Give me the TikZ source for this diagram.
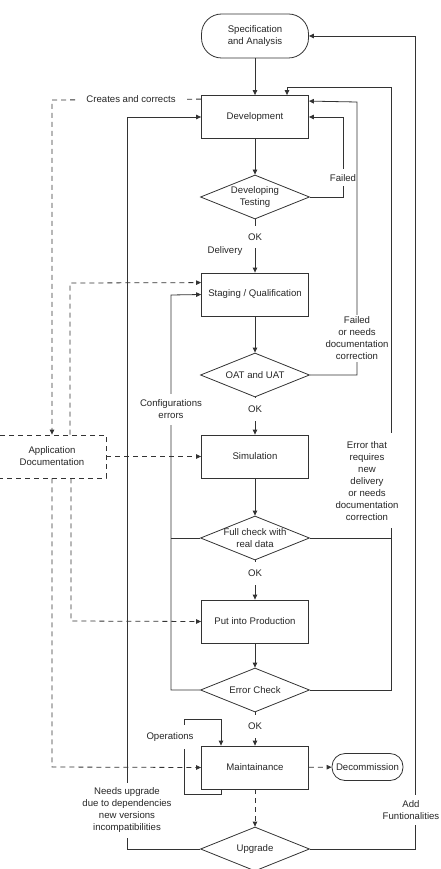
\documentclass[tikz,border=0pt]{standalone}
\usepackage{fontspec}
\setmainfont{Liberation Sans}
\usetikzlibrary{arrows.meta, shapes.geometric}

\begin{document}
\begin{tikzpicture}[x=1pt, y=-1pt,
  >={Triangle[length=5pt, width=4.5pt]},
  every node/.style={font=\fontsize{9.6}{12}\selectfont, text=black!85},
  box/.style={rectangle, draw=black!80, line width=0.8pt, minimum width=107pt, minimum height=43pt, inner sep=0pt, align=center},
  term/.style={box, rounded corners=20pt, minimum height=44pt},
  dec/.style={diamond, draw=black!80, line width=0.8pt, minimum width=109pt, minimum height=44pt, inner sep=0pt},
  lbl/.style={fill=white, inner xsep=2pt, inner ysep=5pt, align=center},
  ok/.style={fill=white, inner xsep=2pt, inner ysep=8pt},
  ln/.style={draw=black!80, line width=0.8pt},
  arr/.style={ln, ->},
  darr/.style={ln, ->, dash pattern=on 5pt off 4pt}]

\useasboundingbox (0,0) rectangle (441,869);

% Main flow
\node[term] (spec) at (255,36) {Specification\\and Analysis};
\node[box] (dev) at (255,117) {Development};
\node[dec, label={[align=center]center:Developing\\Testing}] (devtest) at (255,197) {};
\node[box] (stag) at (255,294.5) {Staging / Qualification};
\node[dec, label=center:OAT and UAT] (oat) at (255,375) {};
\node[box] (sim) at (255,456.5) {Simulation};
\node[dec, label={[align=center]center:Full check with\\real data}] (full) at (255,538) {};
\node[box] (prod) at (255,621.5) {Put into Production};
\node[dec, label=center:Error Check] (errchk) at (255,690) {};
\node[box] (maint) at (255,767.5) {Maintainance};
\node[dec, label=center:Upgrade] (upg) at (255,849) {};
\node[term, rounded corners=13pt, minimum width=71pt, minimum height=27pt] (decom) at (367.5,767) {Decommission};

% Documentation
\node[box, dash pattern=on 5pt off 4pt, minimum width=108pt] (appdoc) at (52,456.5) {Application\\Documentation};

% Straight connections
\draw[arr] (spec) -- (dev);
\draw[arr] (dev) -- (devtest);
\draw[arr] (devtest) -- node[ok, pos=0.33]{OK} (stag);
\node (delivery) at (225,251) {Delivery};
\draw[arr] (stag) -- (oat);
\draw[arr] (oat) -- node[ok, pos=0.32]{OK} (sim);
\draw[arr] (sim) -- (full);
\draw[arr] (full) -- node[ok, pos=0.33]{OK} (prod);
\draw[arr] (prod) -- (errchk);
\draw[arr] (errchk) -- node[ok, pos=0.42]{OK} (maint);
\draw[darr] (maint) -- (upg);
\draw[darr] (maint) -- (decom);

% Feedback loops (right)
\draw[arr] (devtest.east) -- (343,197) -- node[lbl, pos=0.24]{Failed} (343,117) -- (dev.east);
\draw[arr] (oat.east) -- (357,375) -- node[lbl, pos=0.135, inner ysep=2pt]{Failed\\or needs\\documentation\\correction} (357,102) -- ([yshift=-6pt]dev.north east);
\draw[ln] (full.east) -- (391,538);
\draw[arr] (errchk.east) -- (391,690) -- node[lbl, pos=0.347, xshift=-24pt, inner ysep=8pt]{Error that\\requires\\new\\delivery\\or needs\\documentation\\correction} (391,87) -- (287,87) -- ([xshift=32pt]dev.north);
\draw[arr] (upg.east) -- (415,849) -- node[lbl, pos=0.048, xshift=-4pt]{Add\\Funtionalities} (415,36) -- (spec.east);

% Feedback loops (left)
\draw[arr] (upg.west) -- (127,849) -- node[lbl, pos=0.053]{Needs upgrade\\due to dependencies\\new versions\\incompatibilities} (127,117) -- (dev.west);
\draw[ln] (full.west) -- (171,538);
\draw[arr] (errchk.west) -- (171,690) -- node[lbl, pos=0.711, inner ysep=6pt]{Configurations\\errors} (171,295) -- (stag.west);
\draw[arr] ([xshift=-34pt]maint.south) -- (221,794) -- (184,794) -- node[lbl, pos=0.76, xshift=-14pt, inner ysep=8pt]{Operations} (184,719) -- (221,719) -- ([xshift=-34pt]maint.north);

% Documentation links
\draw[darr] ([yshift=-4pt]dev.north west) -- node[lbl, pos=0.47, inner xsep=8pt]{Creates and corrects} (52,100) -- (appdoc.north);
\draw[darr] ([xshift=18pt]appdoc.north) -- (70,283) -- ([yshift=-10pt]stag.north west);
\draw[darr] (appdoc) -- (sim);
\draw[darr] ([xshift=19pt]appdoc.south) -- (71,621) -- (prod.west);
\draw[darr] (appdoc.south) -- (52,767) -- (maint.west);

\end{tikzpicture}
\end{document}
